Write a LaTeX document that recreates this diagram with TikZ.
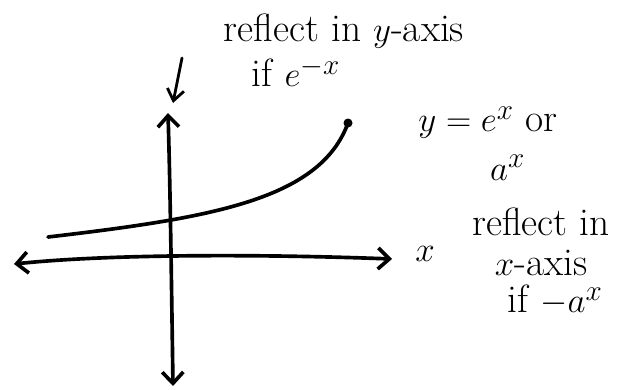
\documentclass[tikz,border=0pt]{standalone}
\usetikzlibrary{arrows.meta, positioning}

\begin{document}
\begin{tikzpicture}[x=0.025cm, y=-0.025cm,
  node distance=0pt,
  axisline/.style={line width=2.6pt, line cap=round,
    {Straight Barb[length=8pt, width=15pt]}-{Straight Barb[length=8pt, width=15pt]}},
  curveline/.style={line width=2.6pt, line cap=round},
  notearr/.style={-{Straight Barb[length=8pt, width=12pt]}, line width=2pt, line cap=round},
  hand/.style={font=\fontsize{28}{30}\selectfont, inner sep=0pt,
    text height=19pt, text depth=5pt}]
  \useasboundingbox (0,0) rectangle (631,389);

  % axes
  \coordinate (ytop) at (168,113);
  \coordinate (ybot) at (173,386);
  \coordinate (xleft) at (14,264);
  \coordinate (xright) at (392,259);
  \draw[axisline] (ybot) .. controls (171,250) and (170,180) .. (ytop);
  \draw[axisline] (xleft) .. controls (110,254) and (260,254) .. (xright);

  % the curve
  \coordinate (gstart) at (48,237);
  \coordinate (gend) at (348,123);
  \draw[curveline] (gstart) .. controls (210,218) and (320,200) .. (gend);
  \fill (gend) circle (3.2pt);

  % labels
  \node[hand] (refy) at (344,32) {reflect in $y$-axis};
  \node[hand] (ify) at (296,77) {if $e^{-x}$};
  \coordinate (notestart) at (182,58);
  \coordinate (noteend) at (173,103);
  \draw[notearr] (notestart) -- (noteend);

  \node[hand] (ylab) at (488,122) {$y=e^x$ or};
  \node[hand, below=10pt of ylab, xshift=14pt] (alab) {$a^x$};

  \node[hand] (xlab) at (425,252) {$x$};
  \node[hand] (refx) at (541,226) {reflect in};
  \node[hand, below=4pt of refx] (xaxis) {$x$-axis};
  \node[hand, below=2pt of xaxis, xshift=10pt] (ifx) {if $-a^x$};
\end{tikzpicture}
\end{document}
